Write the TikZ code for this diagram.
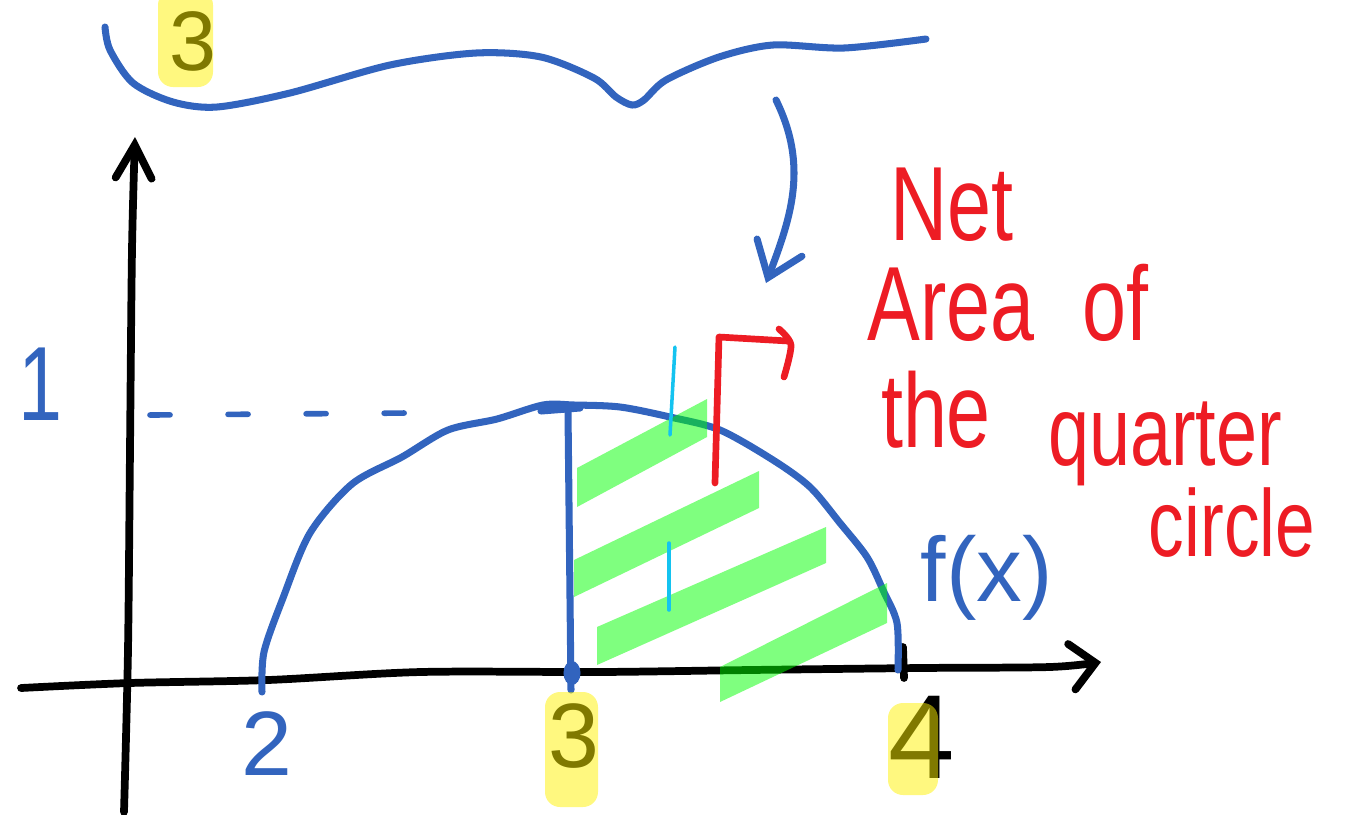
\documentclass[tikz,border=0pt]{standalone}
\usepackage{fontspec}
\setmainfont{Liberation Sans}
\newfontfamily\handfont{Liberation Sans}[FakeStretch=0.75]
\usetikzlibrary{arrows.meta}
\definecolor{penblue}{RGB}{50,100,190}
\definecolor{penred}{RGB}{237,28,36}
\definecolor{pencyan}{RGB}{20,195,240}

\begin{document}
\begin{tikzpicture}[
  x=0.01cm, y=-0.01cm,
  line cap=round, line join=round,
  pen/.style={draw=penblue, line width=2pt},
  axis/.style={draw=black, line width=2.2pt},
  redpen/.style={draw=penred, line width=1.9pt},
  band/.style={fill=green, fill opacity=0.5},
  hl/.style={fill=yellow, fill opacity=0.5, rounded corners=0.15cm},
  hand/.style={font=\handfont\fontsize{30pt}{36pt}\selectfont, inner sep=0pt, anchor=base},
  num/.style={font=\fontsize{26pt}{30pt}\selectfont, inner sep=0pt, anchor=base},
]
\useasboundingbox (0,0) rectangle (1350,814);

% axes
\coordinate (ybot) at (124,812);
\coordinate (ytop) at (135,137);
\coordinate (xleft) at (21,688);
\coordinate (xright) at (1101,662);
\draw[axis, -{Straight Barb[length=3.3mm, width=3.6mm, line cap=round]}]
  plot[smooth] coordinates {(ybot) (128,650) (130,450) (132,250) (ytop)};
\draw[axis, -{Straight Barb[length=2.4mm, width=4.6mm, line cap=round]}]
  plot[smooth] coordinates {(xleft) (130,683) (268,680) (421,672) (600,672) (750,670) (920,668) (1050,667) (xright)};
\draw[axis] (903,647) -- (904,678);

% f(x)
\draw[pen] plot[smooth] coordinates {(262,692) (264,652) (283,598) (310,533) (352,484) (402,457)
  (448,430) (497,419) (543,405) (574,405) (620,407) (670,417) (720,430) (773,460) (810,487)
  (840,523) (867,557) (883,590) (897,623) (898,670)};
\draw[pen, line width=1.6pt, dash pattern=on 0.2cm off 0.58cm] (150,415) -- (410,413);
\draw[pen] (541,411) -- (580,408);
\draw[pen] (568,411) -- (571,690);
\fill[penblue] (572,673) ellipse [x radius=0.085cm, y radius=0.12cm];

% brace and arrow
\draw[pen] plot[smooth] coordinates {(105,27) (110,50) (133,83) (173,102) (217,107) (290,93)
  (390,65) (476,53) (541,57) (594,78) (616,97) (632,105) (644,100) (666,80) (719,57)
  (773,45) (844,48) (926,39)};
\coordinate (arrS) at (776,100);
\coordinate (arrE) at (766,283);
\draw[pen, -{Straight Barb[length=3.2mm, width=4.8mm, line cap=round]}]
  (arrS) .. controls (808,165) and (792,215) .. (arrE);

% red flag
\draw[redpen] (715,483) -- (719,337) -- (788,341);
\draw[redpen] plot[smooth] coordinates {(779,329) (791,345) (784,377)};

% labels
\node[hand, penred] (net) at (952,240) {Net};
\node[hand, penred] (area) at (951,340) {Area};
\node[hand, penred] (of) at (1115,340) {of};
\node[hand, penred] (the) at (936,447) {the};
\node[hand, penred, font=\handfont\fontsize{28pt}{34pt}\selectfont] (quarter) at (1165,465) {quarter};
\node[hand, penred, font=\handfont\fontsize{27pt}{32pt}\selectfont] (circle) at (1232,556) {circle};

\node[hand, penblue] (one) at (41,420) {1};
\node[num, penblue] (two) at (267,775) {2};
\node[num, penblue] (fx) at (987,601) {f(x)};

\node[num] (three) at (574,767) {3};
\node[num, font=\fontsize{34pt}{40pt}\selectfont] (four) at (922,778) {4};
\node[num, font=\fontsize{24pt}{28pt}\selectfont] (lower) at (193,70) {3};

% shading
\fill[band] (577,468) -- (707,399) -- (707,437) -- (577,507) -- cycle;
\fill[band] (574,560) -- (759,471) -- (759,508) -- (574,597) -- cycle;
\fill[band] (597,627) -- (826,527) -- (826,563) -- (597,665) -- cycle;
\fill[band] (720,667) -- (887,583) -- (887,623) -- (720,702) -- cycle;
\draw[pencyan, line width=1pt] (675,347) -- (670,435);
\draw[pencyan, line width=1pt] (669,543) -- (669,610);

% highlights
\fill[hl] (545,692) rectangle (598,807);
\fill[hl] (888,703) rectangle (938,795);
\fill[hl] (158,-10) rectangle (213,87);
\end{tikzpicture}
\end{document}
